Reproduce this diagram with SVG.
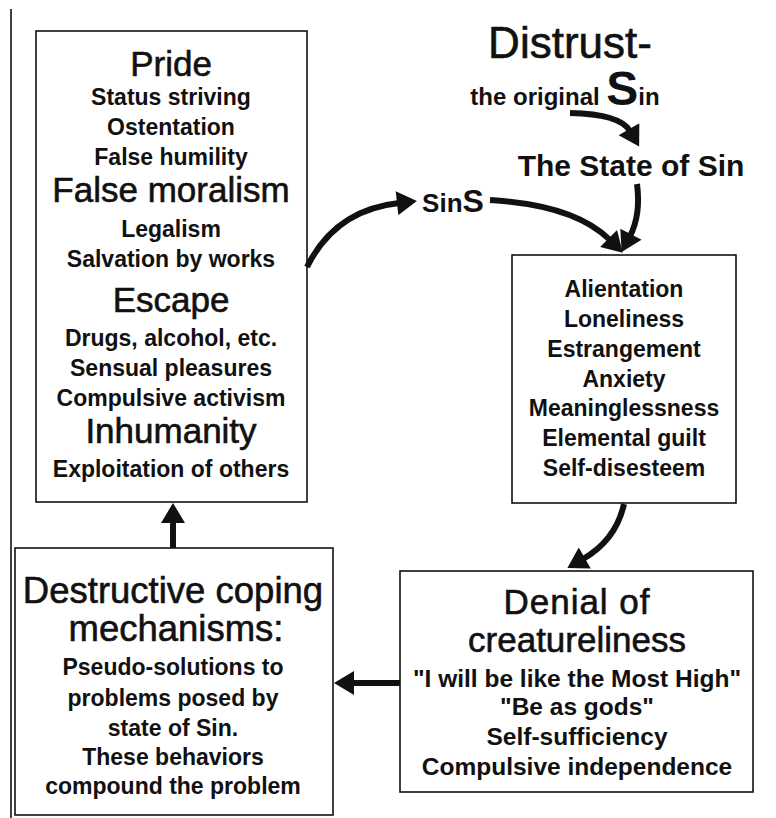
<svg xmlns="http://www.w3.org/2000/svg" width="776" height="818" viewBox="0 0 776 818">
<style>
text{font-family:"Liberation Sans",Arial,sans-serif;fill:#111;text-anchor:middle}
.t{font-size:35px;stroke:#111;stroke-width:0.6}
.b{font-size:23px;font-weight:bold}
.b2{font-size:24.5px;font-weight:bold}
.box{fill:#fff;stroke:#111;stroke-width:1.6}
.c{fill:none;stroke:#111;stroke-width:6}
</style>
<defs>
<marker id="ah" markerUnits="userSpaceOnUse" markerWidth="22" markerHeight="24" viewBox="0 0 20 24" refX="2" refY="12" orient="auto">
<path d="M0,0 L20,12 L0,24 z" fill="#111"/>
</marker>
</defs>
<rect width="776" height="818" fill="#fff"/>
<line x1="11" y1="9" x2="11" y2="818" stroke="#111" stroke-width="1.6"/>

<g id="coping-list">
<rect class="box" x="36" y="31" width="271" height="471"/>
<text class="t" x="171" y="76">Pride</text>
<text class="b" x="171" y="105">Status striving</text>
<text class="b" x="171" y="135">Ostentation</text>
<text class="b" x="171" y="165">False humility</text>
<text class="t" x="171" y="202">False moralism</text>
<text class="b" x="171" y="237">Legalism</text>
<text class="b" x="171" y="267">Salvation by works</text>
<text class="t" x="171" y="312">Escape</text>
<text class="b" x="171" y="346">Drugs, alcohol, etc.</text>
<text class="b" x="171" y="376">Sensual pleasures</text>
<text class="b" x="171" y="406">Compulsive activism</text>
<text class="t" x="171" y="443">Inhumanity</text>
<text class="b" x="171" y="477">Exploitation of others</text>
</g>

<g id="destructive">
<rect class="box" x="15" y="548" width="318" height="267"/>
<text class="t" x="173" y="603" style="font-size:36.5px">Destructive coping</text>
<text class="t" x="176" y="641" style="font-size:36.5px">mechanisms:</text>
<text class="b" x="173" y="675">Pseudo-solutions to</text>
<text class="b" x="173" y="706">problems posed by</text>
<text class="b" x="173" y="736">state of Sin.</text>
<text class="b" x="173" y="765">These behaviors</text>
<text class="b" x="173" y="794">compound the problem</text>
</g>

<g id="distrust">
<text x="570" y="58" style="font-size:44px;stroke:#111;stroke-width:0.6">Distrust-</text>
<text x="565" y="105" style="font-size:24px;font-weight:bold">the original <tspan style="font-size:48px">S</tspan>in</text>
</g>

<g id="state">
<text x="631" y="176" style="font-size:30px;font-weight:bold">The State of Sin</text>
</g>

<g id="sins">
<text x="453" y="212" style="font-size:26px;font-weight:bold">Sin<tspan style="font-size:32px">S</tspan></text>
</g>

<g id="alienation">
<rect class="box" x="512" y="255" width="224" height="248"/>
<text class="b" x="624" y="297">Alientation</text>
<text class="b" x="624" y="327">Loneliness</text>
<text class="b" x="624" y="357">Estrangement</text>
<text class="b" x="624" y="387">Anxiety</text>
<text class="b" x="624" y="416">Meaninglessness</text>
<text class="b" x="624" y="446">Elemental guilt</text>
<text class="b" x="624" y="476">Self-disesteem</text>
</g>

<g id="denial">
<rect class="box" x="400" y="571" width="353" height="221"/>
<text class="t" x="577" y="614" style="letter-spacing:1px">Denial of</text>
<text class="t" x="577" y="652">creatureliness</text>
<text class="b2" x="577" y="687">"I will be like the Most High"</text>
<text class="b2" x="577" y="715">"Be as gods"</text>
<text class="b2" x="577" y="745">Self-sufficiency</text>
<text class="b2" x="577" y="775">Compulsive independence</text>
</g>

<g id="connectors">
<path class="c" d="M173,548 L173,521" marker-end="url(#ah)"/>
<path class="c" d="M400,683 L352,683" marker-end="url(#ah)"/>
<path class="c" d="M624,504 Q616,540 583,559" marker-end="url(#ah)"/>
<path class="c" d="M307,267 Q335,210 399,203" marker-end="url(#ah)"/>
<path class="c" d="M490,200 Q575,205 610,240" marker-end="url(#ah)"/>
<path class="c" d="M637,184 Q641,215 630,236" marker-end="url(#ah)"/>
<path class="c" d="M570,113 Q620,114 630,131" marker-end="url(#ah)"/>
</g>
</svg>
